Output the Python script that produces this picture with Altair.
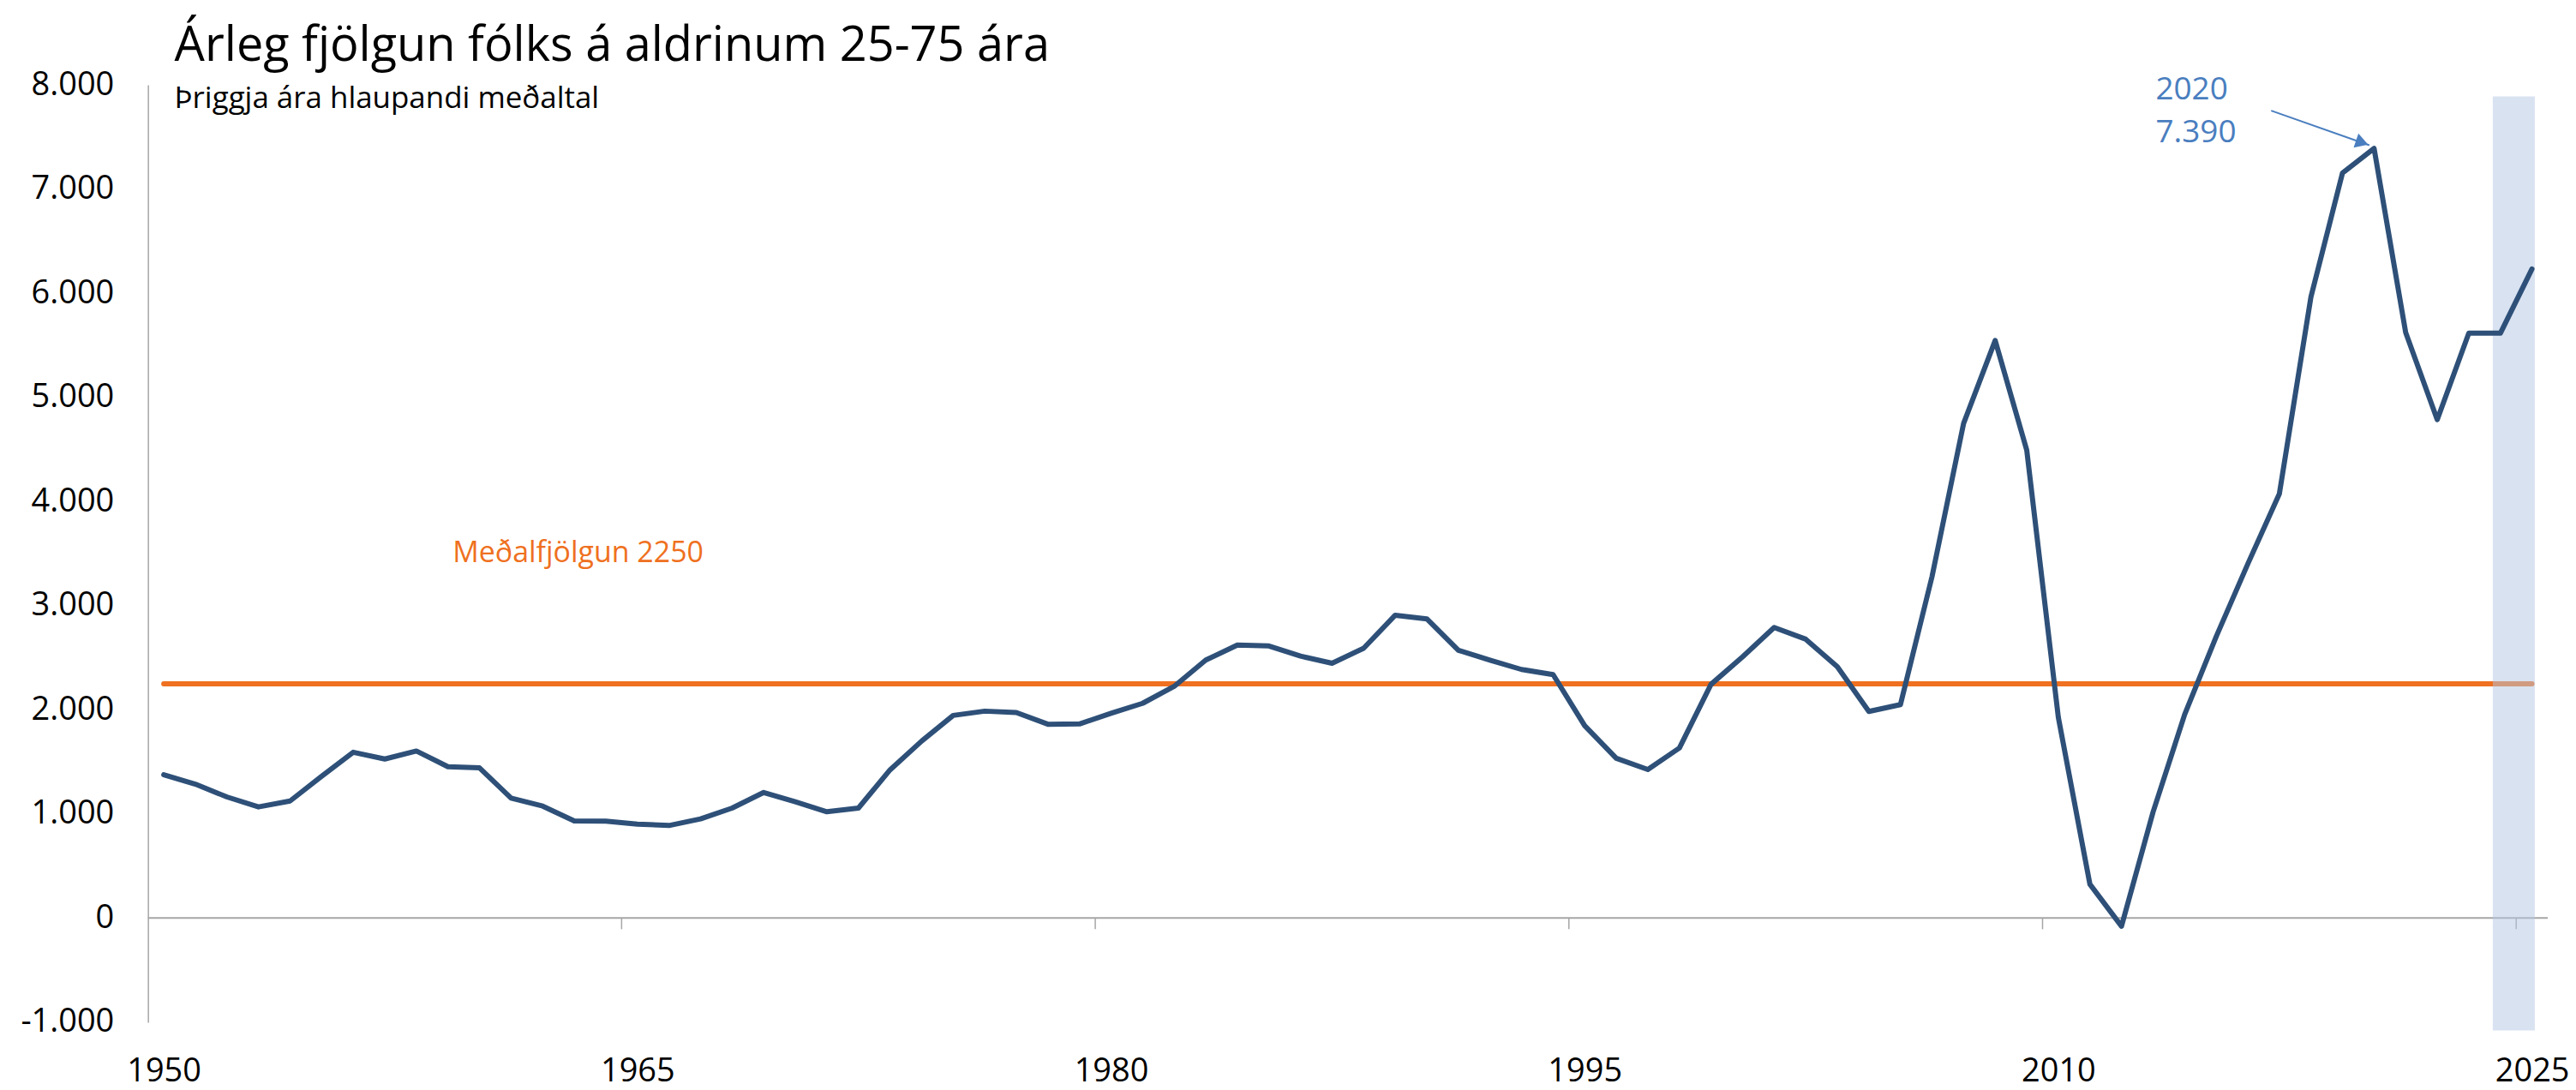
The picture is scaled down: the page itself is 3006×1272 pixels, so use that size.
import altair as alt
import pandas as pd

# ---------------- data ----------------
years = list(range(1950, 2026))
values = [
    1376, 1286, 1163, 1067, 1124, 1362, 1592, 1527, 1604, 1453,   # 1950-1959
    1442, 1152, 1075, 933, 930, 902, 889, 952, 1056, 1206,        # 1960-1969
    1116, 1021, 1056, 1423, 1699, 1946, 1987, 1974, 1861, 1864,   # 1970-1979
    1966, 2062, 2225, 2477, 2621, 2613, 2515, 2447, 2591, 2908,   # 1980-1989
    2873, 2572, 2477, 2387, 2338, 1847, 1534, 1426, 1633, 2244,   # 1990-1999
    2508, 2790, 2678, 2413, 1984, 2050, 3279, 4750, 5546, 4493,   # 2000-2009
    1927, 325, -78, 1018, 1954, 2703, 3400, 4074, 5964, 7155,     # 2010-2019
    7390, 5622, 4786, 5616, 5616, 6233,                           # 2020-2025
]
mean_value = 2250

x_domain = [1949.5, 2025.5]
y_domain = [-1000, 8000]
x_label_years = [1950, 1965, 1980, 1995, 2010, 2025]
x_tick_years = [1964.5, 1979.5, 1994.5, 2009.5, 2024.5]
y_tick_values = [-1000, 0, 1000, 2000, 3000, 4000, 5000, 6000, 7000, 8000]

band_start = [2023.76]
band_end = [2025.09]
band_top = [7890]
band_bottom = [-1080]

mean_label = ["Meðalfjölgun 2250"]
mean_label_year = [1959.15]
mean_label_value = [3417]

peak_label = ["2020", "7.390"]
peak_label_year = [2013.08, 2013.08]
peak_label_value = [7861, 7449]

arrow_from = [2016.74, 7753]
arrow_to = [2019.85, 7421]
arrow_head = [2019.62, 7446]

title_text = "Árleg fjölgun fólks á aldrinum 25-75 ára"
subtitle_text = "Þriggja ára hlaupandi meðaltal"

# ---------------- styles ----------------
FONT = "Open Sans"
BLUE = "#2E5078"
ORANGE = "#EF7020"
ANNOT = "#4A7EBF"
AXIS_GRAY = "#A6A6A6"

df = pd.DataFrame({"year": years, "value": values})
df_mean = pd.DataFrame({"year": years, "value": [mean_value] * len(years)})
df_band = pd.DataFrame({"year": band_start, "year2": band_end,
                        "value": band_top, "value2": band_bottom})
df_zero = pd.DataFrame({"year": [x_domain[0]], "year2": [x_domain[1]], "value": [0]})
df_ticks = pd.DataFrame({"year": x_tick_years, "value": [0] * len(x_tick_years),
                         "value2": [-107] * len(x_tick_years)})
df_mean_label = pd.DataFrame({"year": mean_label_year, "value": mean_label_value,
                              "label": mean_label})
df_peak = pd.DataFrame({"year": peak_label_year, "value": peak_label_value,
                        "label": peak_label})
df_arrow = pd.DataFrame({"year": [arrow_from[0]], "value": [arrow_from[1]],
                         "year2": [arrow_to[0]], "value2": [arrow_to[1]]})
df_head = pd.DataFrame({"year": [arrow_head[0]], "value": [arrow_head[1]]})

y_label_expr = ("datum.value < 0 ? '-' + replace(format(-datum.value, ','), ',', '.')"
                " : replace(format(datum.value, ','), ',', '.')")

X = alt.X("year:Q",
          scale=alt.Scale(domain=x_domain, nice=False, zero=False),
          axis=alt.Axis(values=x_label_years, format="d", domain=False, ticks=False,
                        tickSize=0, grid=False, labelPadding=39, labelFontSize=38,
                        labelFont=FONT, labelColor="black", title=None,
                        labelFlush=False, labelOverlap=False))
Y = alt.Y("value:Q",
          scale=alt.Scale(domain=y_domain, nice=False, zero=False),
          axis=alt.Axis(values=y_tick_values, labelExpr=y_label_expr, domain=True,
                        domainColor=AXIS_GRAY, domainWidth=1.5, ticks=False, tickSize=0,
                        grid=False, labelPadding=40, labelFontSize=38, labelFont=FONT,
                        labelColor="black", title=None, labelOverlap=False))

zero_line = alt.Chart(df_zero).mark_rule(color=AXIS_GRAY, strokeWidth=2).encode(
    x=X, x2="year2:Q", y=Y)
tick_marks = alt.Chart(df_ticks).mark_rule(color=AXIS_GRAY, strokeWidth=1.5).encode(
    x=X, y=Y, y2="value2:Q")
mean_line = alt.Chart(df_mean).mark_line(color=ORANGE, strokeWidth=6,
                                         strokeCap="round").encode(x=X, y=Y)
band = alt.Chart(df_band).mark_rect(color="#B3C6E3", opacity=0.5).encode(
    x=X, x2="year2:Q", y=Y, y2="value2:Q")
main_line = alt.Chart(df).mark_line(color=BLUE, strokeWidth=6, strokeCap="round",
                                    strokeJoin="round").encode(x=X, y=Y)
mean_text = alt.Chart(df_mean_label).mark_text(
    font=FONT, fontSize=34, color=ORANGE, align="left", baseline="alphabetic"
).encode(x=X, y=Y, text="label:N")
peak_text = alt.Chart(df_peak).mark_text(
    font=FONT, fontSize=37, color=ANNOT, align="left", baseline="alphabetic"
).encode(x=X, y=Y, text="label:N")
arrow_line = alt.Chart(df_arrow).mark_rule(color=ANNOT, strokeWidth=2).encode(
    x=X, y=Y, x2="year2:Q", y2="value2:Q")
arrow_tip = alt.Chart(df_head).mark_point(
    shape="triangle-right", size=300, angle=19, filled=True, color=ANNOT, opacity=1
).encode(x=X, y=Y)

chart = alt.layer(
    zero_line, tick_marks, mean_line, band, main_line, mean_text, peak_text,
    arrow_line, arrow_tip
).properties(
    width=2806,
    height=1096,
    title=alt.TitleParams(
        text=title_text, subtitle=subtitle_text, anchor="start", frame="group",
        dx=31, offset=-54, subtitlePadding=15, font=FONT, subtitleFont=FONT,
        fontSize=56, subtitleFontSize=35, fontWeight="normal", color="black",
        subtitleColor="black"),
    autosize=alt.AutoSizeParams(type="none"),
    padding={"left": 165, "top": 90, "right": 25, "bottom": 76},
).configure(
    background="white",
    view=alt.ViewConfig(strokeWidth=0, strokeOpacity=0),
)

chart.save("out.html", embed_options={"renderer": "svg", "actions": False})
